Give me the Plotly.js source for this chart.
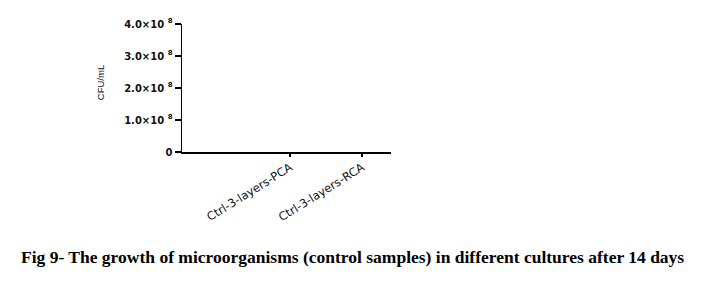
<!DOCTYPE html>
<html>
<head>
<meta charset="utf-8">
<script src="https://cdn.plot.ly/plotly-3.0.1.min.js"></script>
<style>html,body{margin:0;padding:0;background:#fff;}#chart{width:708px;height:281px;}</style>
</head>
<body>
<div id="chart"></div>
<script>
// Data
const categories = ["Ctrl-3-layers-PCA", "Ctrl-3-layers-RCA"];
const cfuValues = [0, 0];
const yTickValues = [0, 1e8, 2e8, 3e8, 4e8];
const yTickLabels = ["0", "1.0\u00d710 <sup>8</sup>", "2.0\u00d710 <sup>8</sup>", "3.0\u00d710 <sup>8</sup>", "4.0\u00d710 <sup>8</sup>"];
const yAxisTitle = "CFU/mL";
const captionText = "Fig 9- The growth of microorganisms (control samples) in different cultures after 14 days";

const trace = {
  type: "bar",
  x: [0, 1],
  y: cfuValues,
  marker: {color: "#000"},
  width: 0.6,
  hoverinfo: "none"
};

const layout = {
  width: 708,
  height: 281,
  margin: {l: 182, r: 317, t: 24, b: 129},
  paper_bgcolor: "#fff",
  plot_bgcolor: "#fff",
  showlegend: false,
  xaxis: {
    range: [-1.5, 1.4],
    tickmode: "array",
    tickvals: [0, 1],
    ticktext: categories,
    tickangle: -32,
    ticks: "outside",
    ticklen: 3,
    tickwidth: 2,
    tickcolor: "#000",
    showline: true,
    linecolor: "#000",
    linewidth: 1.5,
    showgrid: false,
    zeroline: false,
    tickfont: {family: "DejaVu Sans", size: 11.5, color: "#111"}
  },
  yaxis: {
    range: [0, 4e8],
    tickmode: "array",
    tickvals: yTickValues,
    ticktext: yTickLabels,
    ticks: "outside",
    ticklen: 6,
    tickwidth: 1.2,
    tickcolor: "#000",
    showline: true,
    linecolor: "#000",
    linewidth: 1.5,
    showgrid: false,
    zeroline: false,
    tickfont: {family: "DejaVu Sans", size: 10, color: "#111", weight: "bold"}
  },
  annotations: [
    {
      text: yAxisTitle,
      xref: "paper", yref: "paper",
      x: -0.389, y: 0.543,
      xanchor: "center", yanchor: "middle",
      textangle: -90,
      showarrow: false,
      font: {family: "Liberation Sans", size: 9.5, color: "#111"}
    },
    {
      text: "<b>" + captionText + "</b>",
      xref: "paper", yref: "paper",
      x: (352 - 182) / 209, y: (152 - 257) / 128,
      xanchor: "center", yanchor: "middle",
      showarrow: false,
      font: {family: "Liberation Serif", size: 17.5, color: "#000"}
    }
  ]
};

Plotly.newPlot("chart", [trace], layout, {displayModeBar: false, staticPlot: true});
</script>
</body>
</html>
